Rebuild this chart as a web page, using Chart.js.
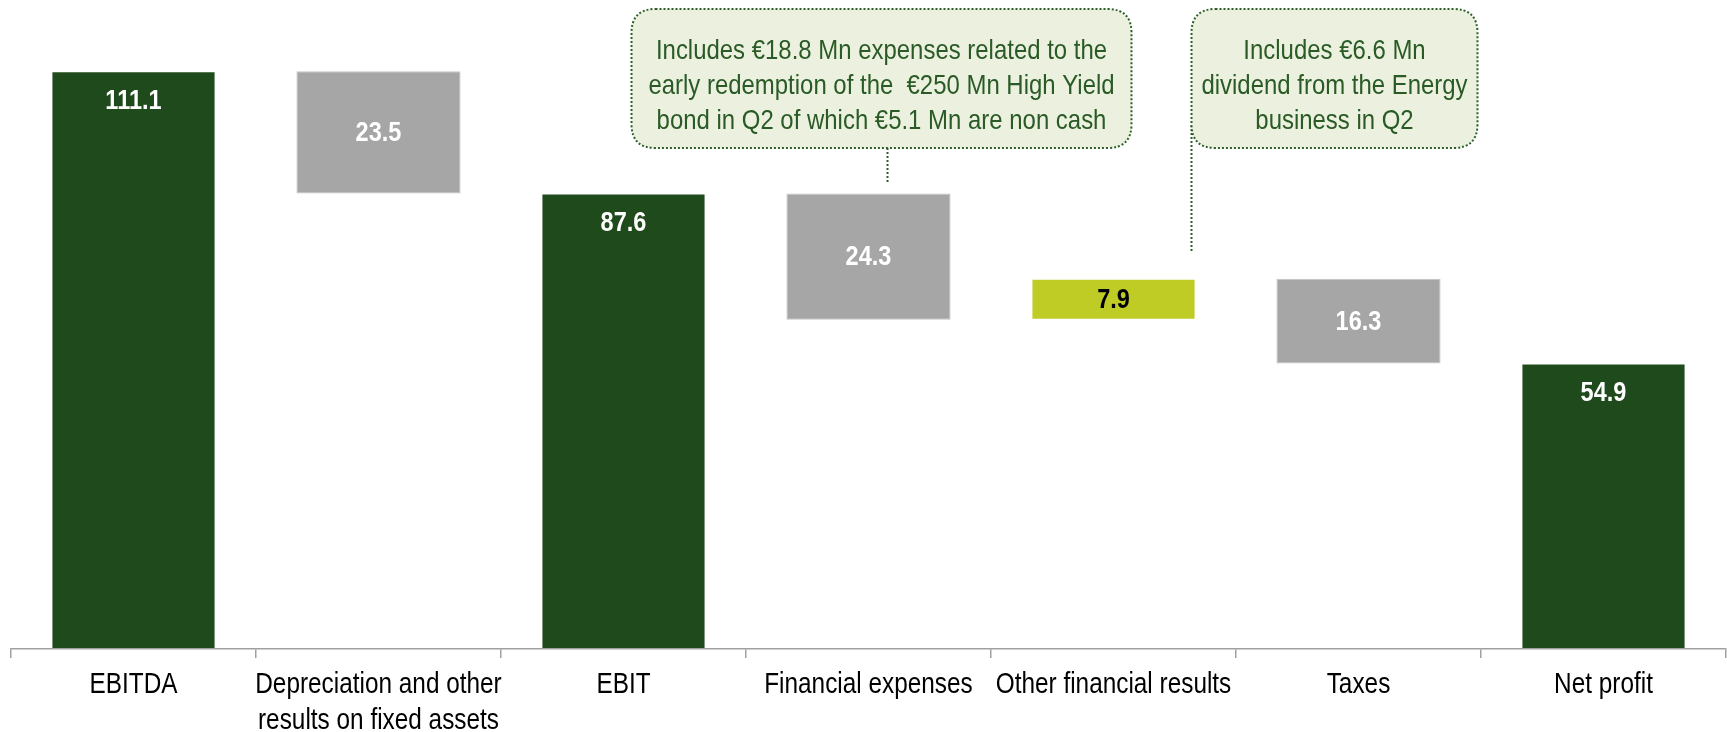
<!DOCTYPE html>
<html>
<head>
<meta charset="utf-8">
<script src="https://cdn.jsdelivr.net/npm/chart.js@4"></script>
<style>
  body { margin: 0; background: #fff; overflow: hidden; }
</style>
</head>
<body>
<canvas id="grafico" width="1727" height="732"></canvas>
<script>
// datos del grafico (cascada)
const categorias = [
  'EBITDA',
  ['Depreciation and other', 'results on fixed assets'],
  'EBIT',
  'Financial expenses',
  'Other financial results',
  'Taxes',
  'Net profit'
];
const valores = [111.1, -23.5, 87.6, -24.3, 7.9, -16.3, 54.9];
const tipos = ['total', 'delta', 'total', 'delta', 'delta', 'delta', 'total'];

const nota1 = [
  'Includes €18.8 Mn expenses related to the',
  'early redemption of the  €250 Mn High Yield',
  'bond in Q2 of which €5.1 Mn are non cash'
];
const nota2 = [
  'Includes €6.6 Mn',
  'dividend from the Energy',
  'business in Q2'
];

// Arial Narrow no esta instalada: Liberation Sans comprimida en horizontal
const FUENTE = '"Liberation Sans", Arial, sans-serif';
const ESTRECHO = 0.84;
const VERDE = '#1f4a1c';
const GRIS = '#a6a6a6';
const LIMA = '#c0cc26';

// rangos flotantes a partir de los valores
let acumulado = 0;
const rangos = valores.map((v, i) => {
  if (tipos[i] === 'total') {
    acumulado = v;
    return [0, v];
  }
  const r = [acumulado, acumulado + v];
  acumulado += v;
  return [Math.min(r[0], r[1]), Math.max(r[0], r[1])];
});
const colores = valores.map((v, i) => tipos[i] === 'total' ? VERDE : (v < 0 ? GRIS : LIMA));
const bordes = valores.map((v, i) => tipos[i] === 'delta' && v < 0 ? '#c4c4c4' : 'rgba(0,0,0,0)');

function textoEstrecho(ctx, texto, x, y) {
  ctx.save();
  ctx.translate(x, y);
  ctx.scale(ESTRECHO, 1);
  ctx.fillText(texto, 0, 0);
  ctx.restore();
}

// etiquetas dentro de las barras y del eje x
const etiquetas = {
  id: 'etiquetas',
  afterDatasetsDraw(chart) {
    const ctx = chart.ctx;
    const meta = chart.getDatasetMeta(0);
    ctx.save();
    ctx.font = 'bold 28px ' + FUENTE;
    ctx.textAlign = 'center';
    ctx.textBaseline = 'middle';
    meta.data.forEach((bar, i) => {
      const top = Math.min(bar.y, bar.base);
      const bottom = Math.max(bar.y, bar.base);
      const y = tipos[i] === 'total' ? top + 29 : (top + bottom) / 2;
      ctx.fillStyle = (tipos[i] === 'delta' && valores[i] > 0) ? '#000' : '#fff';
      textoEstrecho(ctx, Math.abs(valores[i]).toFixed(1), bar.x, y + 1);
    });

    const xs = chart.scales.x;
    ctx.font = '29px ' + FUENTE;
    ctx.fillStyle = '#000';
    categorias.forEach((c, i) => {
      const lineas = Array.isArray(c) ? c : [c];
      lineas.forEach((l, k) => {
        textoEstrecho(ctx, l, xs.getPixelForValue(i), xs.top + 36 + k * 36);
      });
    });
    ctx.restore();
  }
};

function cajaRedondeada(ctx, x, y, w, h, r) {
  ctx.beginPath();
  ctx.moveTo(x + r, y);
  ctx.lineTo(x + w - r, y);
  ctx.quadraticCurveTo(x + w, y, x + w, y + r);
  ctx.lineTo(x + w, y + h - r);
  ctx.quadraticCurveTo(x + w, y + h, x + w - r, y + h);
  ctx.lineTo(x + r, y + h);
  ctx.quadraticCurveTo(x, y + h, x, y + h - r);
  ctx.lineTo(x, y + r);
  ctx.quadraticCurveTo(x, y, x + r, y);
  ctx.closePath();
}

// notas con linea punteada
const notas = {
  id: 'notas',
  afterDraw(chart) {
    const ctx = chart.ctx;
    const xs = chart.scales.x;
    const lista = [
      { texto: nota1, x: xs.getPixelForValue(3) - 237, w: 500, lx: xs.getPixelForValue(3) + 19, ly0: 148, ly1: 184 },
      { texto: nota2, x: xs.getPixelForValue(4) + 78, w: 286, lx: xs.getPixelForValue(4) + 78, ly0: 125, ly1: 252 }
    ];
    ctx.save();
    lista.forEach(n => {
      const y = 9, h = 139;
      ctx.setLineDash([2, 2]);
      ctx.lineWidth = 2;
      ctx.strokeStyle = '#2e5f2a';
      ctx.beginPath();
      ctx.moveTo(n.lx, n.ly0);
      ctx.lineTo(n.lx, n.ly1);
      ctx.stroke();
      cajaRedondeada(ctx, n.x, y, n.w, h, 24);
      ctx.fillStyle = '#ebf1de';
      ctx.fill();
      ctx.stroke();
      ctx.setLineDash([]);
      ctx.fillStyle = '#2a5a26';
      ctx.font = '28.5px ' + FUENTE;
      ctx.textAlign = 'center';
      ctx.textBaseline = 'middle';
      n.texto.forEach((t, k) => {
        textoEstrecho(ctx, t, n.x + n.w / 2, y + 42 + k * 35);
      });
    });
    ctx.restore();
  }
};

new Chart(document.getElementById('grafico').getContext('2d'), {
  type: 'bar',
  data: {
    labels: categorias,
    datasets: [{
      data: rangos,
      backgroundColor: colores,
      borderColor: bordes,
      borderWidth: 1,
      borderSkipped: false,
      categoryPercentage: 1,
      barPercentage: 0.67
    }]
  },
  options: {
    responsive: false,
    animation: false,
    layout: { padding: { left: 11, right: 1, top: 0, bottom: 0 } },
    plugins: {
      legend: { display: false },
      tooltip: { enabled: false }
    },
    scales: {
      x: {
        offset: true,
        grid: {
          offset: true,
          drawOnChartArea: false,
          drawTicks: true,
          tickLength: 9,
          color: '#a0a0a0',
          lineWidth: 1.5
        },
        border: { display: true, color: '#a0a0a0', width: 1.5 },
        ticks: {
          // se dibujan estrechas en el plugin
          color: 'rgba(0,0,0,0)',
          padding: 9,
          maxRotation: 0,
          autoSkip: false,
          font: { family: FUENTE, size: 28, lineHeight: 1.29 }
        },
        afterFit(scale) { scale.height = 83; }
      },
      y: {
        display: false,
        min: 0,
        max: 124.8
      }
    }
  },
  plugins: [etiquetas, notas]
});
</script>
</body>
</html>
